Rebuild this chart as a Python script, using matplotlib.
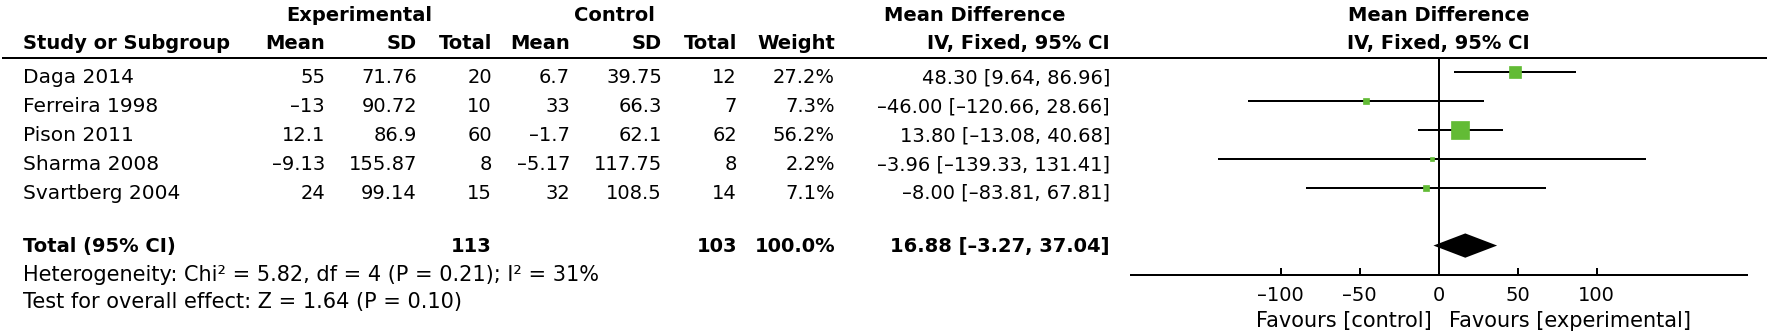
import numpy as np
import matplotlib
matplotlib.use("Agg")
import matplotlib.pyplot as plt
import matplotlib.transforms as mtransforms
from matplotlib.lines import Line2D
from matplotlib.ticker import FuncFormatter

# study data
studies = ["Daga 2014", "Ferreira 1998", "Pison 2011", "Sharma 2008", "Svartberg 2004"]
exp_mean = [55, -13, 12.1, -9.13, 24]
exp_sd = [71.76, 90.72, 86.9, 155.87, 99.14]
exp_n = [20, 10, 60, 8, 15]
ctl_mean = [6.7, 33, -1.7, -5.17, 32]
ctl_sd = [39.75, 66.3, 62.1, 117.75, 108.5]
ctl_n = [12, 7, 62, 8, 14]
weight = [27.2, 7.3, 56.2, 2.2, 7.1]
md = [48.30, -46.00, 13.80, -3.96, -8.00]
md_lo = [9.64, -120.66, -13.08, -139.33, -83.81]
md_hi = [86.96, 28.66, 40.68, 131.41, 67.81]

# pooled result
total_exp_n = 113
total_ctl_n = 103
total_weight = 100.0
total_md, total_lo, total_hi = 16.88, -3.27, 37.04
heterogeneity = "Heterogeneity: Chi\u00b2 = 5.82, df = 4 (P = 0.21); I\u00b2 = 31%"
overall = "Test for overall effect: Z = 1.64 (P = 0.10)"
xticks = [-100, -50, 0, 50, 100]

W, H = 1772, 336
green = "#62bb35"
FS = 14      # numbers and bold headers
FS_TXT = 15  # running text
LW = 1.44


def dash(s):
    return s.replace("-", "\u2013")


def num(v):
    return dash("{:g}".format(v))


def ci(m, lo, hi):
    return dash("{:.2f} [{:.2f}, {:.2f}]".format(m, lo, hi))


fig = plt.figure(figsize=(W / 100, H / 100), dpi=100)

# forest panel: x in mean-difference units, y in table rows
left_px, scale = 1130.5, 1.58
top_px, axis_px = 57.5, 274.5
ax = fig.add_axes([left_px / W, (H - axis_px) / H, 390 * scale / W, (axis_px - top_px) / H])
ax.set_xlim(-195, 195)
ax.set_ylim(7, -0.5)
for s in ["top", "left", "right"]:
    ax.spines[s].set_visible(False)
ax.spines["bottom"].set_linewidth(LW)
ax.set_yticks([])
ax.set_xticks(xticks)
ax.xaxis.set_major_formatter(FuncFormatter(lambda v, p: num(v)))
ax.tick_params(axis="x", direction="in", length=5, width=LW, labelsize=14, pad=8)
ax.patch.set_visible(False)

ax.axvline(0, color="k", lw=LW, zorder=1)
rows = np.arange(len(studies))
ax.hlines(rows, md_lo, md_hi, color="k", lw=LW, zorder=2)
for r, m, w in zip(rows, md, weight):
    side = 2.45 * np.sqrt(w) * 0.72
    ax.plot(m, r, marker="s", ms=side, color=green, mec=green, mew=0.5, zorder=3)

d_row, d_h = 6, 0.42
ax.fill([total_lo, total_md, total_hi, total_md],
        [d_row, d_row - d_h, d_row, d_row + d_h], color="k", lw=0, zorder=3)

ax.text(-4.2, 8.8, "Favours [control]", ha="right", va="baseline", fontsize=FS_TXT)
ax.text(6.4, 8.8, "Favours [experimental]", ha="left", va="baseline", fontsize=FS_TXT)
ax.text(0, -1.77, "Mean Difference", ha="center", va="baseline", fontsize=FS, fontweight="bold")
ax.text(0, -0.78, "IV, Fixed, 95% CI", ha="center", va="baseline", fontsize=FS, fontweight="bold")

# header rule across the whole figure
tr = mtransforms.blended_transform_factory(fig.transFigure, ax.transData)
fig.add_artist(Line2D([3 / W, 1766 / W], [-0.5, -0.5], transform=tr, color="k", lw=LW))

# table columns (right edges in pixels)
col_x = {"name": 23, "em": 325, "esd": 417, "en": 492, "cm": 570,
         "csd": 662, "cn": 737, "w": 835, "ci": 1110}


def put(col, row, s, ha="right", bold=False, size=FS):
    fig.text(col_x[col] / W, row, s, transform=tr, ha=ha, va="baseline",
             fontsize=size, fontweight="bold" if bold else "normal")


fig.text(359 / W, -1.77, "Experimental", transform=tr, ha="center", va="baseline",
         fontsize=FS, fontweight="bold")
fig.text(614 / W, -1.77, "Control", transform=tr, ha="center", va="baseline",
         fontsize=FS, fontweight="bold")
fig.text(975 / W, -1.77, "Mean Difference", transform=tr, ha="center", va="baseline",
         fontsize=FS, fontweight="bold")

hr = -0.78
put("name", hr, "Study or Subgroup", ha="left", bold=True)
put("em", hr, "Mean", bold=True)
put("esd", hr, "SD", bold=True)
put("en", hr, "Total", bold=True)
put("cm", hr, "Mean", bold=True)
put("csd", hr, "SD", bold=True)
put("cn", hr, "Total", bold=True)
put("w", hr, "Weight", bold=True)
put("ci", hr, "IV, Fixed, 95% CI", bold=True)

for i in range(len(studies)):
    r = i + 0.39
    put("name", r, studies[i], ha="left", size=14.5)
    put("em", r, num(exp_mean[i]))
    put("esd", r, num(exp_sd[i]))
    put("en", r, str(exp_n[i]))
    put("cm", r, num(ctl_mean[i]))
    put("csd", r, num(ctl_sd[i]))
    put("cn", r, str(ctl_n[i]))
    put("w", r, "{:.1f}%".format(weight[i]))
    put("ci", r, ci(md[i], md_lo[i], md_hi[i]))

tr_row = 6.22
put("name", tr_row, "Total (95% CI)", ha="left", bold=True)
put("en", tr_row, str(total_exp_n), bold=True)
put("cn", tr_row, str(total_ctl_n), bold=True)
put("w", tr_row, "{:.1f}%".format(total_weight), bold=True)
put("ci", tr_row, ci(total_md, total_lo, total_hi), bold=True)

put("name", 7.24, heterogeneity, ha="left", size=FS_TXT)
put("name", 8.16, overall, ha="left", size=FS_TXT)

fig.savefig("out.png", dpi=100)
